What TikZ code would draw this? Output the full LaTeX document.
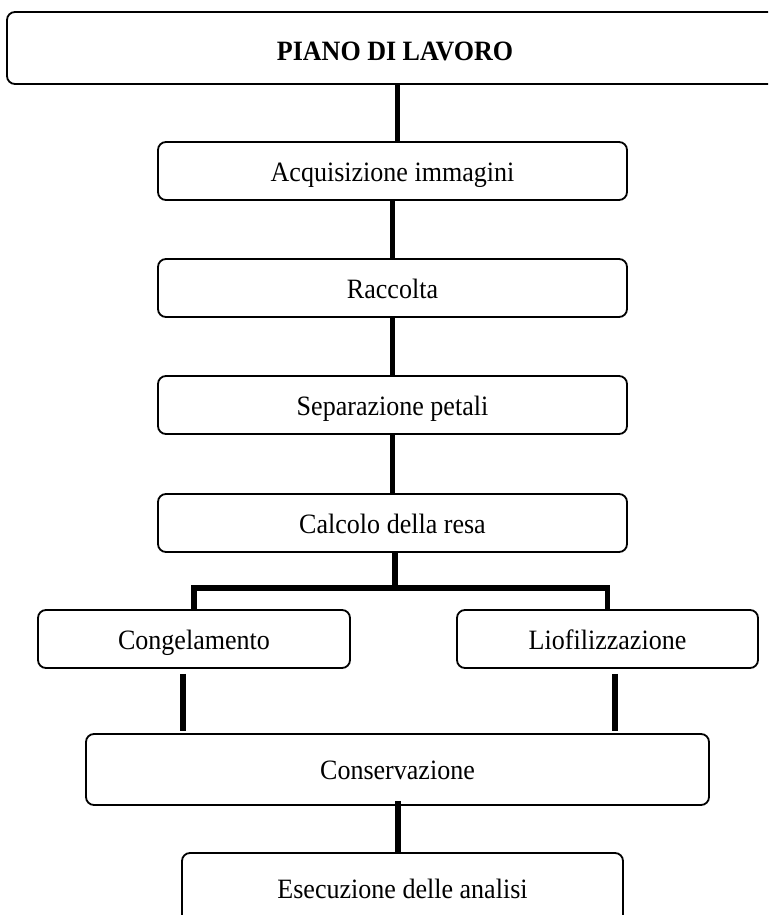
\documentclass[tikz,border=0pt]{standalone}
\usepackage{fontspec}
\setmainfont[FakeStretch=0.93]{Liberation Serif}
\usetikzlibrary{calc}
\begin{document}
\begin{tikzpicture}[x=1pt,y=-1pt,
  stepbox/.style={draw=black,line width=1.8pt,rounded corners=8pt,fill=white,
    inner sep=0pt,text height=20pt,text depth=0pt,font=\fontsize{28}{32}\selectfont},
  link/.style={line width=5.5pt,line join=miter,line cap=butt}]
\useasboundingbox (0,0) rectangle (768,915);
\clip (0,0) rectangle (768,915);
\fill[white] (0,0) rectangle (768,915);
% boxes
\node[stepbox,text height=26pt,minimum width=776pt,minimum height=72pt] (top) at (395,48) {\textbf{PIANO DI LAVORO}};
\node[stepbox,minimum width=469pt,minimum height=58pt] (acq) at (392.5,171) {Acquisizione immagini};
\node[stepbox,minimum width=469pt,minimum height=58pt] (rac) at (392.5,288) {Raccolta};
\node[stepbox,minimum width=469pt,minimum height=58pt] (sep) at (392.5,405) {Separazione petali};
\node[stepbox,minimum width=469pt,minimum height=58pt] (cal) at (392.5,523) {Calcolo della resa};
\node[stepbox,minimum width=312pt,minimum height=58pt] (cong) at (194,639) {Congelamento};
\node[stepbox,minimum width=301pt,minimum height=58pt] (lio) at (607.5,639) {Liofilizzazione};
\node[stepbox,minimum width=623pt,minimum height=71pt] (cons) at (397.5,769.5) {Conservazione};
\node[stepbox,minimum width=441pt,minimum height=70pt] (esec) at (402.5,888) {Esecuzione delle analisi};
% connectors
\draw[link] ([xshift=2.5pt]top.south) -- ([xshift=2.5pt]top.south |- acq.north);
\draw[link] (acq.south) -- (rac.north);
\draw[link] (rac.south) -- (sep.north);
\draw[link] (sep.south) -- (cal.north);
\coordinate (j) at ($(cal.south)+(2.5,35)$);
\draw[link] ([xshift=2.5pt]cal.south) -- (j);
\draw[link] (cong.north) -- (cong.north |- j) -- (lio.north |- j) -- (lio.north);
\coordinate (c1) at ($(cong.south)+(-11,5)$);
\draw[link] (c1) -- ($(c1 |- cons.north)+(0,-2)$);
\coordinate (c2) at ($(lio.south)+(7.5,5)$);
\draw[link] (c2) -- ($(c2 |- cons.north)+(0,-2)$);
\coordinate (c3) at ($(cons.south)+(0.5,-5)$);
\draw[link] (c3) -- (c3 |- esec.north);
\end{tikzpicture}
\end{document}
